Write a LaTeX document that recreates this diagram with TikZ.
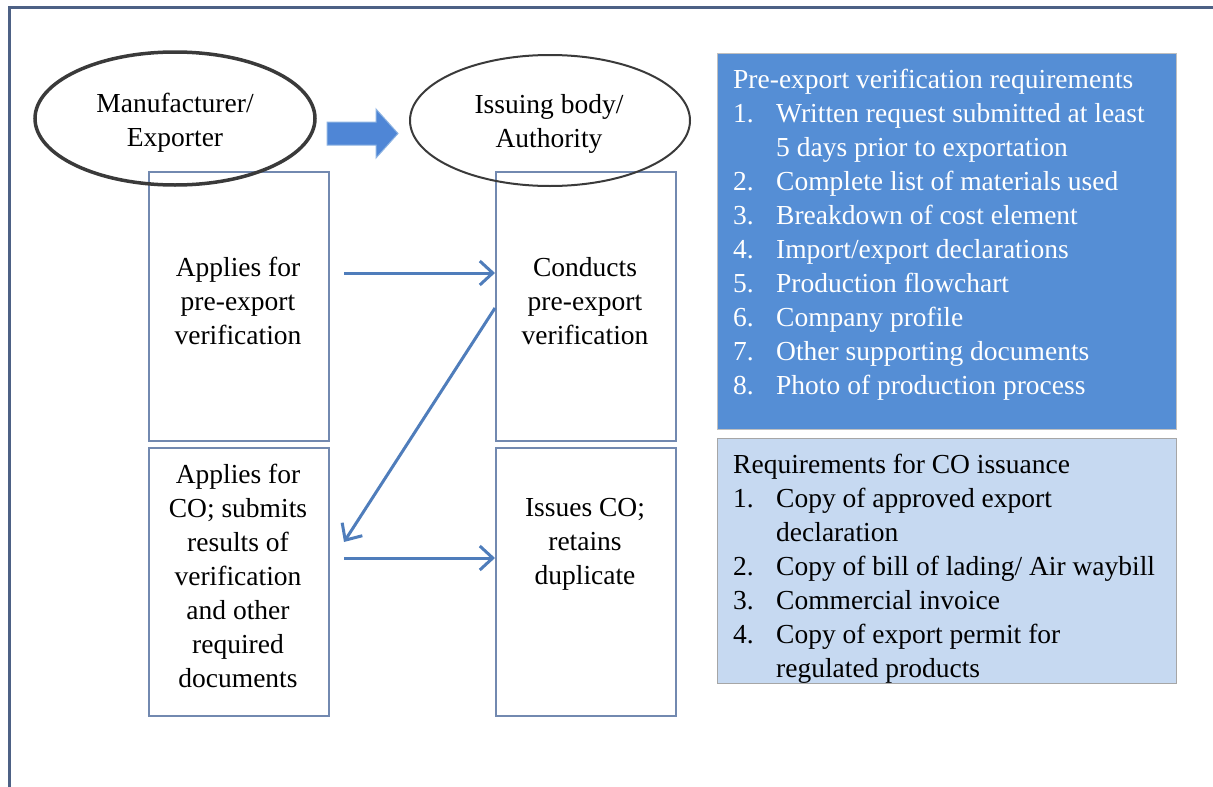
\documentclass[tikz,border=0pt]{standalone}
\usepackage{fontspec}
\setmainfont{Liberation Serif}
\usetikzlibrary{arrows.meta,calc,shapes.geometric}
\definecolor{framec}{HTML}{4D6185}
\definecolor{boxc}{HTML}{7289B0}
\definecolor{connc}{HTML}{4F7DBB}
\definecolor{ellc}{HTML}{3A3A3A}
\definecolor{arrfill}{HTML}{4F86D6}
\definecolor{arredge}{HTML}{8DB3E2}
\definecolor{ponefill}{HTML}{558ED5}
\definecolor{poneedge}{HTML}{BFBFBF}
\definecolor{ptwofill}{HTML}{C6D9F1}
\definecolor{ptwoedge}{HTML}{A6A6A6}
\newcommand\itm[1]{\makebox[43pt][l]{#1}}
\begin{document}
\begin{tikzpicture}[x=1pt,y=-1pt,
  stepbox/.style={draw=boxc,line width=2pt,rectangle,inner sep=0,anchor=north west,minimum width=180pt},
  actor/.style={ellipse,draw=ellc,inner sep=0},
  txt/.style={font=\fontsize{27.5}{34}\selectfont,align=center,inner sep=0,anchor=north},
  ptxt/.style={font=\fontsize{27.5}{34}\selectfont,align=left,inner sep=0,anchor=north west},
  panel/.style={line width=1pt,rectangle,inner sep=0,anchor=north west,minimum width=459pt},
  conn/.style={draw=connc,line width=3pt,-{Straight Barb[length=13pt,width=24pt]}}
]
\useasboundingbox (0,0) rectangle (1213,787);
\draw[framec,line width=3pt] (9.5,787) -- (9.5,7.5) -- (1213,7.5);

% boxes
\node[stepbox,minimum height=269pt] (A) at (148,171) {};
\node[stepbox,minimum height=268pt] (B) at (148,447) {};
\node[stepbox,minimum height=269pt] (C) at (495,171) {};
\node[stepbox,minimum height=268pt] (D) at (495,447) {};

% ellipses
\node[actor,line width=3.5pt,minimum width=280pt,minimum height=133pt] (E1) at (175,118.5) {};
\node[actor,line width=2pt,minimum width=280pt,minimum height=131pt] (E2) at (550,120.5) {};
\node[txt] (E1t) at (175,93) {Manufacturer/\\Exporter};
\node[txt] (E2t) at (549,94) {Issuing body/\\Authority};

% block arrow
\fill[arrfill,draw=arredge,line width=1pt] (327,122) -- (376,122) -- (376,109) -- (398,133.5) -- (376,158) -- (376,145) -- (327,145) -- cycle;

% box texts
\node[txt] (At) at (238,257) {Applies for\\pre-export\\verification};
\node[txt] (Ct) at (585,257) {Conducts\\pre-export\\verification};
\node[txt] (Bt) at (238,464) {Applies for\\CO; submits\\results of\\verification\\and other\\required\\documents};
\node[txt] (Dt) at (585,498) {Issues CO;\\retains\\duplicate};

% connectors
\coordinate (a1) at ($(A.east)+(14,-33.5)$);
\draw[conn] (a1) -- (a1 -| C.west);
\coordinate (c1) at ($(C.west)+(0,1.5)$);
\coordinate (b1) at ($(B.east)+(14,-40)$);
\draw[conn] (c1) -- (b1);
\coordinate (b2) at ($(B.east)+(14,-24)$);
\draw[conn] (b2) -- (b2 -| D.west);

% panels
\node[panel,draw=poneedge,fill=ponefill,minimum height=376pt] (P1) at (716.5,52.5) {};
\node[ptxt,text=white] (P1t) at (733,69) {Pre-export verification requirements\\
\itm{1.}Written request submitted at least\\
\itm{}5 days prior to exportation\\
\itm{2.}Complete list of materials used\\
\itm{3.}Breakdown of cost element\\
\itm{4.}Import/export declarations\\
\itm{5.}Production flowchart\\
\itm{6.}Company profile\\
\itm{7.}Other supporting documents\\
\itm{8.}Photo of production process};

\node[panel,draw=ptwoedge,fill=ptwofill,minimum height=245pt] (P2) at (716.5,438) {};
\node[ptxt,text=black] (P2t) at (733,454) {Requirements for CO issuance\\
\itm{1.}Copy of approved export\\
\itm{}declaration\\
\itm{2.}Copy of bill of lading/ Air waybill\\
\itm{3.}Commercial invoice\\
\itm{4.}Copy of export permit for\\
\itm{}regulated products};
\end{tikzpicture}
\end{document}
